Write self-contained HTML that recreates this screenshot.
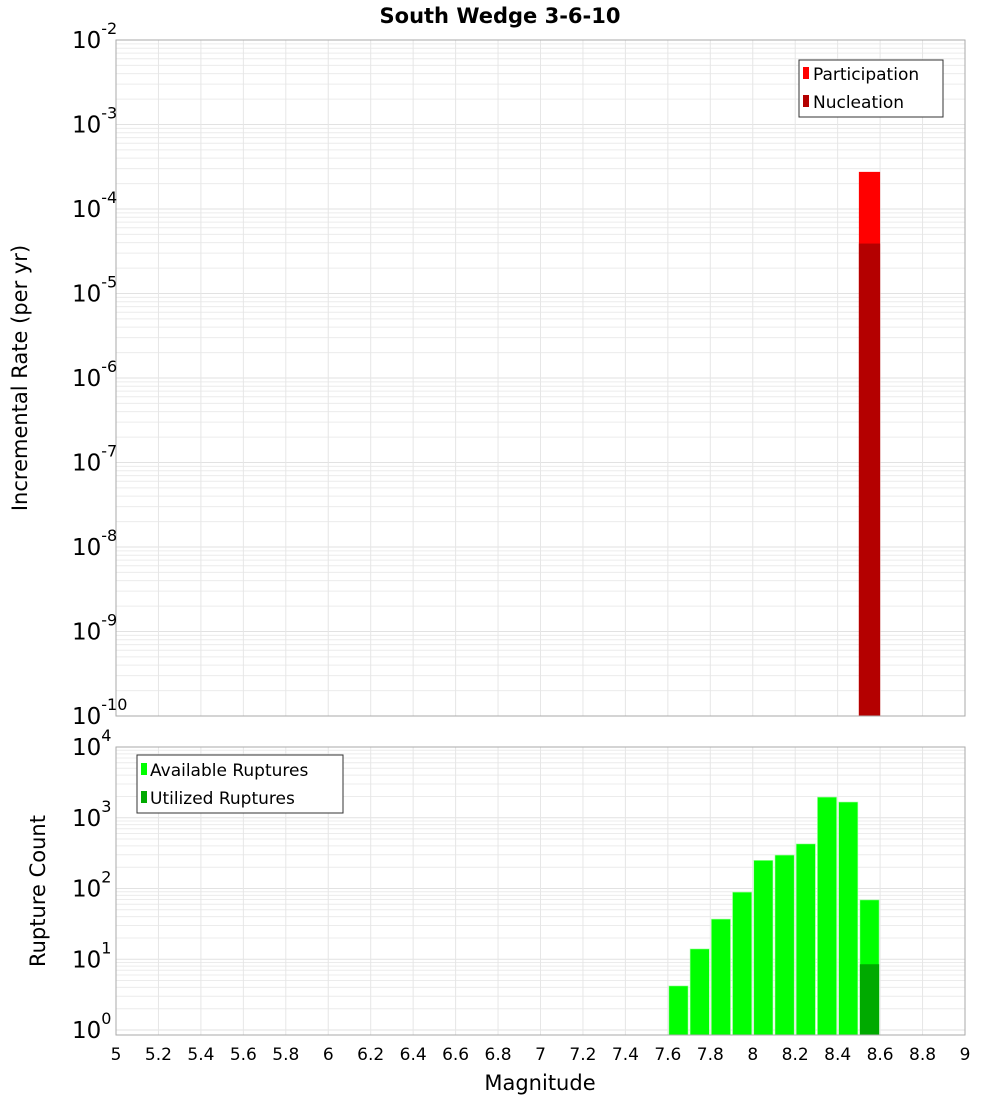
<!DOCTYPE html>
<html><head><meta charset="utf-8"><style>body{margin:0;background:#fff}svg{display:block;font-family:"DejaVu Sans","Liberation Sans",sans-serif}</style></head>
<body>
<svg id="c" width="1000" height="1100" xmlns="http://www.w3.org/2000/svg">
<text x="500" y="23" text-anchor="middle" font-size="21" font-weight="bold">South Wedge 3-6-10</text>
<g id="gtop"></g><g id="gbot"></g>
<text transform="translate(27,378) rotate(-90)" text-anchor="middle" font-size="21">Incremental Rate (per yr)</text>
<text transform="translate(45,891) rotate(-90)" text-anchor="middle" font-size="21">Rupture Count</text>
<text x="540" y="1090" text-anchor="middle" font-size="21">Magnitude</text>
<g>
<rect x="799" y="60" width="144" height="57" fill="#fff" stroke="#333"/>
<rect x="803" y="67" width="6" height="12" fill="#ff0000"/><text x="813" y="80" font-size="17">Participation</text>
<rect x="803" y="95" width="6" height="12" fill="#b40000"/><text x="813" y="108" font-size="17">Nucleation</text>
</g>
<g>
<rect x="137" y="755" width="206" height="58" fill="#fff" stroke="#333"/>
<rect x="141" y="763" width="6" height="12" fill="#00ff00"/><text x="150" y="776" font-size="17">Available Ruptures</text>
<rect x="141" y="791" width="6" height="12" fill="#00aa00"/><text x="150" y="804" font-size="17">Utilized Ruptures</text>
</g>
</svg>
<script>
const binCenters=[7.65,7.75,7.85,7.95,8.05,8.15,8.25,8.35,8.45,8.55];
const available=[4.2,14,37,89,250,297,427,1960,1670,69];
const utilizedBins=[8.55];
const utilized=[8.5];
const rateBins=[8.55];
const participation=[2.75e-4];
const nucleation=[3.9e-5];
const xTicks=[5,5.2,5.4,5.6,5.8,6,6.2,6.4,6.6,6.8,7,7.2,7.4,7.6,7.8,8,8.2,8.4,8.6,8.8,9];
const topDecades=[-10,-9,-8,-7,-6,-5,-4,-3,-2];
const botDecades=[0,1,2,3,4];
const NS="http://www.w3.org/2000/svg";
const X0=116,X1=965;
const xs=v=>X0+(v-5)/4*(X1-X0);
const yTop=v=>40+(-2-Math.log10(v))*84.5;
const yBot=v=>1030-Math.log10(v)*70.75;
function mk(p,t,a){const e=document.createElementNS(NS,t);for(const k in a)e.setAttribute(k,a[k]);p.appendChild(e);return e;}
const gTop=document.getElementById('gtop'),gBot=document.getElementById('gbot');
function frame(g,y0,y1,ys,decs,name){
  for(const d of decs){for(let m=1;m<10;m++){const v=Math.pow(10,d)*m;const y=ys(v);if(y<y0-0.5||y>y1+0.5)continue;
    const l=mk(g,'line',{x1:X0,x2:X1,y1:y,y2:y,stroke:m==1?'#e2e2e2':'#ececec','stroke-width':1});
    
    }}
  for(const t of xTicks){const l=mk(g,'line',{x1:xs(t),x2:xs(t),y1:y0,y2:y1,stroke:'#e6e6e6'});
    
    }
}
frame(gTop,40,716,yTop,topDecades,'top');
frame(gBot,747,1035,yBot,botDecades,'bottom');
const w=xs(5.1)-xs(5);
rateBins.forEach((m,i)=>{
  const r=mk(gTop,'rect',{x:xs(m)-w/2,y:yTop(participation[i]),width:w,height:716-yTop(participation[i]),fill:'#ff0000'});
  
  
  const n=mk(gTop,'rect',{x:xs(m)-w/2,y:yTop(nucleation[i]),width:w,height:716-yTop(nucleation[i]),fill:'#b40000'});
  
  
});
binCenters.forEach((m,i)=>{
  const r=mk(gBot,'rect',{x:xs(m)-w/2+1,y:yBot(available[i]),width:w-2,height:1035-yBot(available[i]),fill:'#00ff00',stroke:'#b0ffb0','stroke-width':0.6});
  
  
});
utilizedBins.forEach((m,i)=>{
  const r=mk(gBot,'rect',{x:xs(m)-w/2+1,y:yBot(utilized[i]),width:w-2,height:1035-yBot(utilized[i]),fill:'#00aa00'});
  
  
});
mk(gTop,'rect',{x:X0,y:40,width:X1-X0,height:676,fill:'none',stroke:'#aaa'});
mk(gBot,'rect',{x:X0,y:747,width:X1-X0,height:288,fill:'none',stroke:'#aaa'});
function ylab(g,d,y,name){const t=mk(g,'text',{x:72,y:y+8,'font-size':23});t.textContent='10';
  const s=mk(t,'tspan',{dy:-14,'font-size':16});s.textContent=String(d);
  
  }
topDecades.forEach(d=>ylab(gTop,d,yTop(Math.pow(10,d)),'top-y-tick-label'));
botDecades.forEach(d=>ylab(gBot,d,yBot(Math.pow(10,d)),'bottom-y-tick-label'));
xTicks.forEach(t=>{const e=mk(gBot,'text',{x:xs(t),y:1060,'text-anchor':'middle','font-size':17});e.textContent=String(t);
  
  });
</script>
</body></html>
